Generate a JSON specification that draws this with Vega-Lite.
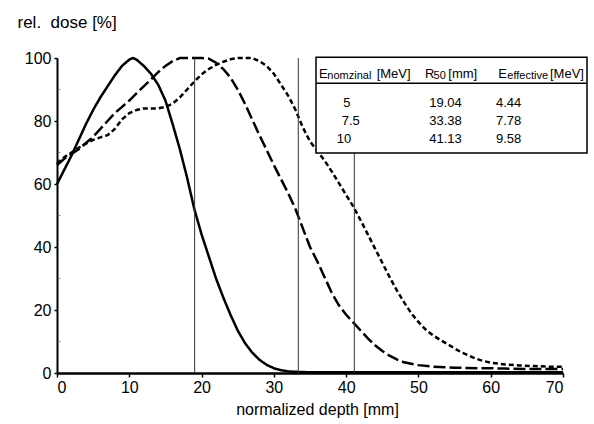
{
  "$schema": "https://vega.github.io/schema/vega-lite/v6.json",
  "width": 506,
  "height": 315,
  "autosize": {"type": "none"},
  "padding": {"left": 57, "top": 58, "right": 31, "bottom": 51},
  "background": "white",
  "config": {"font": "Liberation Sans", "view": {"stroke": null}},
  "datasets": {
    "curves": [
      {"series": "5", "x": 0, "y": 60}, {"series": "5", "x": 1, "y": 64.5}, {"series": "5", "x": 2, "y": 69}, {"series": "5", "x": 3, "y": 74}, {"series": "5", "x": 4, "y": 79}, {"series": "5", "x": 5, "y": 83.5}, {"series": "5", "x": 6, "y": 87.5}, {"series": "5", "x": 7, "y": 91}, {"series": "5", "x": 8, "y": 94.5}, {"series": "5", "x": 9, "y": 97.5}, {"series": "5", "x": 10, "y": 99.5}, {"series": "5", "x": 10.5, "y": 100}, {"series": "5", "x": 11, "y": 99.5}, {"series": "5", "x": 12, "y": 97.5}, {"series": "5", "x": 13, "y": 95}, {"series": "5", "x": 14, "y": 91.5}, {"series": "5", "x": 15, "y": 86.5}, {"series": "5", "x": 16, "y": 79}, {"series": "5", "x": 17, "y": 71}, {"series": "5", "x": 18, "y": 62}, {"series": "5", "x": 19, "y": 52}, {"series": "5", "x": 20, "y": 44}, {"series": "5", "x": 21, "y": 37}, {"series": "5", "x": 22, "y": 30}, {"series": "5", "x": 23, "y": 24}, {"series": "5", "x": 24, "y": 18.5}, {"series": "5", "x": 25, "y": 13.5}, {"series": "5", "x": 26, "y": 9.5}, {"series": "5", "x": 27, "y": 6.5}, {"series": "5", "x": 28, "y": 4.2}, {"series": "5", "x": 29, "y": 2.6}, {"series": "5", "x": 30, "y": 1.5}, {"series": "5", "x": 31, "y": 0.9}, {"series": "5", "x": 32, "y": 0.5}, {"series": "5", "x": 34, "y": 0.3}, {"series": "5", "x": 36, "y": 0.2}, {"series": "5", "x": 40, "y": 0.2}, {"series": "5", "x": 50, "y": 0.2}, {"series": "5", "x": 60, "y": 0.2}, {"series": "5", "x": 70, "y": 0.2},
      {"series": "7.5", "x": 0, "y": 66}, {"series": "7.5", "x": 1, "y": 68}, {"series": "7.5", "x": 2, "y": 69.5}, {"series": "7.5", "x": 3, "y": 71}, {"series": "7.5", "x": 4, "y": 73}, {"series": "7.5", "x": 5, "y": 75}, {"series": "7.5", "x": 6, "y": 77.5}, {"series": "7.5", "x": 7, "y": 80}, {"series": "7.5", "x": 8, "y": 82.5}, {"series": "7.5", "x": 9, "y": 84.5}, {"series": "7.5", "x": 10, "y": 86.5}, {"series": "7.5", "x": 11, "y": 88.8}, {"series": "7.5", "x": 12, "y": 91}, {"series": "7.5", "x": 13, "y": 93.2}, {"series": "7.5", "x": 14, "y": 95.5}, {"series": "7.5", "x": 15, "y": 97.5}, {"series": "7.5", "x": 16, "y": 99}, {"series": "7.5", "x": 17, "y": 100}, {"series": "7.5", "x": 18, "y": 100}, {"series": "7.5", "x": 19, "y": 100}, {"series": "7.5", "x": 20, "y": 100}, {"series": "7.5", "x": 21, "y": 99.8}, {"series": "7.5", "x": 22, "y": 98.5}, {"series": "7.5", "x": 23, "y": 96.5}, {"series": "7.5", "x": 24, "y": 93.8}, {"series": "7.5", "x": 25, "y": 90}, {"series": "7.5", "x": 26, "y": 85.5}, {"series": "7.5", "x": 27, "y": 80.5}, {"series": "7.5", "x": 28, "y": 75.5}, {"series": "7.5", "x": 29, "y": 70.8}, {"series": "7.5", "x": 30, "y": 66}, {"series": "7.5", "x": 31, "y": 61.5}, {"series": "7.5", "x": 32, "y": 57}, {"series": "7.5", "x": 33, "y": 52}, {"series": "7.5", "x": 34, "y": 46}, {"series": "7.5", "x": 35, "y": 40}, {"series": "7.5", "x": 36, "y": 35.5}, {"series": "7.5", "x": 37, "y": 30.5}, {"series": "7.5", "x": 38, "y": 25.5}, {"series": "7.5", "x": 39, "y": 21.5}, {"series": "7.5", "x": 40, "y": 18.5}, {"series": "7.5", "x": 41, "y": 16}, {"series": "7.5", "x": 42, "y": 13.5}, {"series": "7.5", "x": 43, "y": 11}, {"series": "7.5", "x": 44, "y": 8.8}, {"series": "7.5", "x": 45, "y": 7}, {"series": "7.5", "x": 46, "y": 5.5}, {"series": "7.5", "x": 47, "y": 4.3}, {"series": "7.5", "x": 48, "y": 3.4}, {"series": "7.5", "x": 50, "y": 2.5}, {"series": "7.5", "x": 52, "y": 2}, {"series": "7.5", "x": 55, "y": 1.7}, {"series": "7.5", "x": 58, "y": 1.5}, {"series": "7.5", "x": 60, "y": 1.5}, {"series": "7.5", "x": 62, "y": 1.4}, {"series": "7.5", "x": 65, "y": 1.3}, {"series": "7.5", "x": 68, "y": 1.3}, {"series": "7.5", "x": 70, "y": 1.3},
      {"series": "10", "x": 0, "y": 66.5}, {"series": "10", "x": 1, "y": 68.5}, {"series": "10", "x": 2, "y": 70}, {"series": "10", "x": 3, "y": 71.5}, {"series": "10", "x": 4, "y": 72.8}, {"series": "10", "x": 5, "y": 74}, {"series": "10", "x": 6, "y": 74.8}, {"series": "10", "x": 7, "y": 75.5}, {"series": "10", "x": 8, "y": 77.5}, {"series": "10", "x": 9, "y": 80.5}, {"series": "10", "x": 10, "y": 82.5}, {"series": "10", "x": 11, "y": 83.5}, {"series": "10", "x": 12, "y": 84}, {"series": "10", "x": 13, "y": 84}, {"series": "10", "x": 14, "y": 84}, {"series": "10", "x": 15, "y": 84.5}, {"series": "10", "x": 16, "y": 85.5}, {"series": "10", "x": 17, "y": 87.5}, {"series": "10", "x": 18, "y": 90}, {"series": "10", "x": 19, "y": 92.5}, {"series": "10", "x": 20, "y": 94.8}, {"series": "10", "x": 21, "y": 96.5}, {"series": "10", "x": 22, "y": 97.8}, {"series": "10", "x": 23, "y": 98.8}, {"series": "10", "x": 24, "y": 99.6}, {"series": "10", "x": 25, "y": 100}, {"series": "10", "x": 26, "y": 100}, {"series": "10", "x": 27, "y": 100}, {"series": "10", "x": 28, "y": 99}, {"series": "10", "x": 29, "y": 97.5}, {"series": "10", "x": 30, "y": 95}, {"series": "10", "x": 31, "y": 91.5}, {"series": "10", "x": 32, "y": 88}, {"series": "10", "x": 33, "y": 83.5}, {"series": "10", "x": 34, "y": 78}, {"series": "10", "x": 35, "y": 73.5}, {"series": "10", "x": 36, "y": 70.5}, {"series": "10", "x": 37, "y": 67.5}, {"series": "10", "x": 38, "y": 64}, {"series": "10", "x": 39, "y": 60.3}, {"series": "10", "x": 40, "y": 56.5}, {"series": "10", "x": 41, "y": 52.8}, {"series": "10", "x": 42, "y": 48.5}, {"series": "10", "x": 43, "y": 44}, {"series": "10", "x": 44, "y": 39.5}, {"series": "10", "x": 45, "y": 35}, {"series": "10", "x": 46, "y": 30.5}, {"series": "10", "x": 47, "y": 26.3}, {"series": "10", "x": 48, "y": 22.5}, {"series": "10", "x": 49, "y": 19}, {"series": "10", "x": 50, "y": 16.2}, {"series": "10", "x": 51, "y": 13.8}, {"series": "10", "x": 52, "y": 12}, {"series": "10", "x": 53, "y": 10.5}, {"series": "10", "x": 54, "y": 9.2}, {"series": "10", "x": 55, "y": 7.8}, {"series": "10", "x": 56, "y": 6.5}, {"series": "10", "x": 57, "y": 5.5}, {"series": "10", "x": 58, "y": 4.5}, {"series": "10", "x": 59, "y": 3.8}, {"series": "10", "x": 60, "y": 3.3}, {"series": "10", "x": 62, "y": 2.7}, {"series": "10", "x": 64, "y": 2.4}, {"series": "10", "x": 66, "y": 2.2}, {"series": "10", "x": 68, "y": 2}, {"series": "10", "x": 70, "y": 2}
    ],
    "r50": [{"x": 19.04, "y": 0, "y2": 100}, {"x": 33.38, "y": 0, "y2": 100}, {"x": 41.13, "y": 0, "y2": 100}],
    "minor": [{"x": 0.1, "x2": 0.45, "y": 10}, {"x": 0.1, "x2": 0.45, "y": 30}, {"x": 0.1, "x2": 0.45, "y": 50}, {"x": 0.1, "x2": 0.45, "y": 70}, {"x": 0.1, "x2": 0.45, "y": 90}],
    "box": [{"x": 35.83, "x2": 73.32, "y": 69.84, "y2": 100.2}],
    "sep": [{"x": 35.83, "x2": 73.32, "y": 91.97}],
    "headMain": [
      {"t": "E", "x": 36.24, "y": 93.8}, {"t": "[MeV]", "x": 44.22, "y": 93.8},
      {"t": "R", "x": 50.91, "y": 93.8}, {"t": "[mm]", "x": 54.13, "y": 93.8},
      {"t": "E", "x": 61.05, "y": 93.8}, {"t": "[MeV]", "x": 68.2, "y": 93.8}
    ],
    "headSub": [
      {"t": "nomzinal", "x": 37.4, "y": 93.3}, {"t": "50", "x": 52.1, "y": 93.3}, {"t": "effective", "x": 62.3, "y": 93.3}
    ],
    "vals": [
      {"t": "5", "x": 39.61, "y": 84.54}, {"t": "19.04", "x": 51.5, "y": 84.54}, {"t": "4.44", "x": 60.73, "y": 84.54},
      {"t": "7.5", "x": 39.38, "y": 78.73}, {"t": "33.38", "x": 51.5, "y": 78.73}, {"t": "7.78", "x": 60.73, "y": 78.73},
      {"t": "10", "x": 38.69, "y": 72.92}, {"t": "41.13", "x": 51.5, "y": 72.92}, {"t": "9.58", "x": 60.73, "y": 72.92}
    ]
  },
  "layer": [
    {
      "data": {"name": "curves"},
      "mark": {"type": "line", "color": "black", "strokeWidth": 2.5, "clip": false},
      "encoding": {
        "x": {"field": "x", "type": "quantitative", "scale": {"domain": [0, 70], "nice": false, "zero": false},
          "axis": {"title": "normalized depth [mm]", "values": [0, 10, 20, 30, 40, 50, 60, 70], "grid": false,
            "labelFontSize": 16, "labelColor": "black", "labelPadding": 2, "tickColor": "black", "tickSize": 4, "tickWidth": 1.5,
            "domainColor": "black", "domainWidth": 2.5, "titleFontSize": 16, "titleFontWeight": "normal", "titleColor": "black",
            "titleBaseline": "alphabetic", "titleY": 41, "titleX": 260}},
        "y": {"field": "y", "type": "quantitative", "scale": {"domain": [0, 100], "nice": false, "zero": false},
          "axis": {"title": "rel.\u00a0\u00a0dose [%]", "values": [0, 20, 40, 60, 80, 100], "grid": false,
            "labelFontSize": 16, "labelColor": "black", "labelPadding": 3, "tickColor": "black", "tickSize": 3, "tickWidth": 1.5,
            "domainColor": "black", "domainWidth": 2, "titleFontSize": 17, "titleFontWeight": "normal", "titleColor": "black",
            "titleAngle": 0, "titleAlign": "left", "titleBaseline": "alphabetic", "titleX": -40, "titleY": -31}},
        "strokeDash": {"field": "series", "type": "nominal", "scale": {"domain": ["5", "7.5", "10"], "range": [[1, 0], [12, 4], [5, 3]]}, "legend": null},
        "detail": {"field": "series"}
      }
    },
    {
      "data": {"name": "r50"},
      "mark": {"type": "rule", "color": "#333333", "strokeWidth": 1},
      "encoding": {"x": {"field": "x", "type": "quantitative"}, "y": {"field": "y", "type": "quantitative"}, "y2": {"field": "y2"}}
    },
    {
      "data": {"name": "minor"},
      "mark": {"type": "rule", "color": "#777777", "strokeWidth": 1},
      "encoding": {"x": {"field": "x", "type": "quantitative"}, "x2": {"field": "x2"}, "y": {"field": "y", "type": "quantitative"}}
    },
    {
      "data": {"name": "box"},
      "mark": {"type": "rect", "fill": "white", "stroke": "black", "strokeWidth": 1.5, "clip": false},
      "encoding": {"x": {"field": "x", "type": "quantitative"}, "x2": {"field": "x2"}, "y": {"field": "y", "type": "quantitative"}, "y2": {"field": "y2"}}
    },
    {
      "data": {"name": "sep"},
      "mark": {"type": "rule", "color": "black", "strokeWidth": 1.5},
      "encoding": {"x": {"field": "x", "type": "quantitative"}, "x2": {"field": "x2"}, "y": {"field": "y", "type": "quantitative"}}
    },
    {
      "data": {"name": "headMain"},
      "mark": {"type": "text", "align": "left", "baseline": "alphabetic", "fontSize": 13, "color": "black"},
      "encoding": {"x": {"field": "x", "type": "quantitative"}, "y": {"field": "y", "type": "quantitative"}, "text": {"field": "t"}}
    },
    {
      "data": {"name": "headSub"},
      "mark": {"type": "text", "align": "left", "baseline": "alphabetic", "fontSize": 11, "color": "black"},
      "encoding": {"x": {"field": "x", "type": "quantitative"}, "y": {"field": "y", "type": "quantitative"}, "text": {"field": "t"}}
    },
    {
      "data": {"name": "vals"},
      "mark": {"type": "text", "align": "left", "baseline": "alphabetic", "fontSize": 13, "color": "black"},
      "encoding": {"x": {"field": "x", "type": "quantitative"}, "y": {"field": "y", "type": "quantitative"}, "text": {"field": "t"}}
    }
  ]
}
